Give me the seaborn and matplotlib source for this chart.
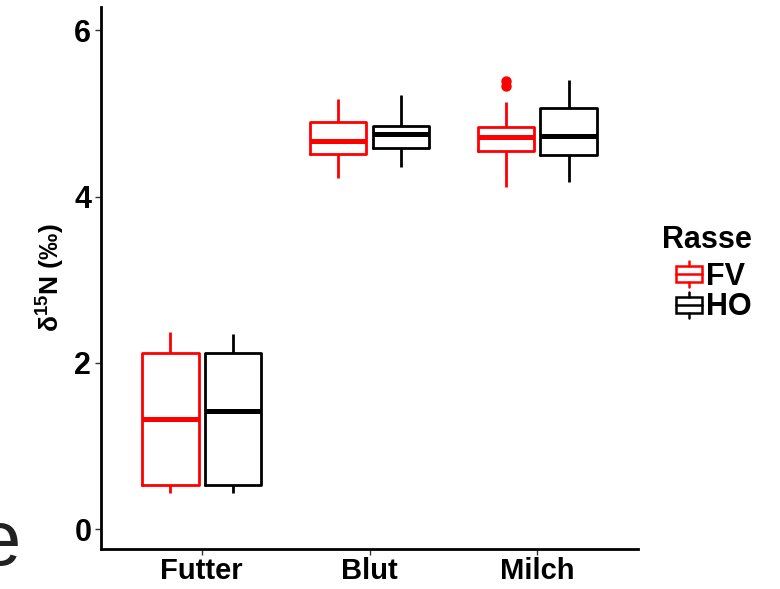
import matplotlib
matplotlib.use("Agg")
import matplotlib.pyplot as plt
from matplotlib.patches import Patch, Rectangle
from matplotlib.lines import Line2D
from matplotlib.legend_handler import HandlerBase
import seaborn as sns
import pandas as pd

# values (each group chosen so quartiles/whiskers match)
futter_fv = [0.43, 0.50, 0.53, 0.90, 1.32, 1.70, 2.12, 2.25, 2.37]
futter_ho = [0.43, 0.50, 0.53, 1.00, 1.42, 1.80, 2.12, 2.25, 2.35]
blut_fv = [4.22, 4.40, 4.51, 4.60, 4.67, 4.80, 4.90, 5.05, 5.17]
blut_ho = [4.35, 4.50, 4.58, 4.68, 4.75, 4.80, 4.85, 5.00, 5.22]
milch_fv = [4.12, 4.35, 4.50, 4.55, 4.62, 4.68, 4.72, 4.76, 4.80, 4.84, 5.14, 5.33, 5.39]
milch_ho = [4.17, 4.35, 4.50, 4.62, 4.73, 4.90, 5.06, 5.25, 5.40]

categories = ["Futter", "Blut", "Milch"]
breeds = ["FV", "HO"]
colors = {"FV": "#FF0000", "HO": "black"}
yticks = [0, 2, 4, 6]

groups = {
    ("Futter", "FV"): futter_fv, ("Futter", "HO"): futter_ho,
    ("Blut", "FV"): blut_fv, ("Blut", "HO"): blut_ho,
    ("Milch", "FV"): milch_fv, ("Milch", "HO"): milch_ho,
}
rows = []
for (cat, breed), vals in groups.items():
    for v in vals:
        rows.append({"Probe": cat, "Rasse": breed, "d15N": v})
df = pd.DataFrame(rows)


class BoxHandler(HandlerBase):
    # small box-and-whisker glyph like ggplot's legend key
    def create_artists(self, legend, orig_handle, xdescent, ydescent,
                       width, height, fontsize, trans):
        c = orig_handle.get_edgecolor()
        x0, y0 = -xdescent, -ydescent
        cx = x0 + width / 2
        bh = height * 0.6
        by = y0 + (height - bh) / 2
        box = Rectangle((x0, by), width, bh, facecolor="none", edgecolor=c,
                        linewidth=1.8, transform=trans)
        med = Line2D([x0, x0 + width], [by + bh / 2] * 2, color=c, lw=1.8, transform=trans)
        w1 = Line2D([cx, cx], [y0, by], color=c, lw=1.8, transform=trans)
        w2 = Line2D([cx, cx], [by + bh, y0 + height], color=c, lw=1.8, transform=trans)
        return [box, med, w1, w2]


sns.set_style("white")
plt.rcParams["font.family"] = ["Liberation Sans", "DejaVu Sans"]
plt.rcParams["mathtext.fontset"] = "custom"
plt.rcParams["mathtext.rm"] = "Liberation Sans:bold"
plt.rcParams["mathtext.default"] = "rm"
plt.rcParams["text.color"] = "black"
plt.rcParams["axes.labelcolor"] = "black"
plt.rcParams["xtick.color"] = "black"
plt.rcParams["ytick.color"] = "black"

fig = plt.figure(figsize=(7.8, 5.89), dpi=100)
ax = fig.add_axes([0.1295, 0.068, 0.6885, 0.92])

sns.boxplot(data=df, x="Probe", y="d15N", hue="Rasse", order=categories,
            hue_order=breeds, palette=colors,
            fill=False, width=0.75, gap=0.1, linewidth=2.0, ax=ax,
            medianprops=dict(linewidth=3.6),
            whiskerprops=dict(linewidth=2.0),
            capprops=dict(linewidth=0),
            flierprops=dict(marker="o", markerfacecolor="#FF0000",
                            markeredgecolor="#FF0000", markersize=6.5),
            legend=False)

ax.set_xlim(-0.6, 2.6)
ax.set_ylim(-0.24, 6.28)
ax.set_yticks(yticks)
ax.set_xlabel("")
ax.set_ylabel(r"δ$^{15}$N (‰)", fontsize=19, fontweight="bold", labelpad=5)
for lab in ax.get_xticklabels() + ax.get_yticklabels():
    lab.set_fontweight("bold")
ax.tick_params(axis="y", labelsize=22, length=4, width=1, color="#333333",
               pad=3, left=True)
ax.tick_params(axis="x", labelsize=21, length=4, width=1, color="#333333",
               pad=2, bottom=True)
sns.despine(ax=ax)
for side in ["left", "bottom"]:
    ax.spines[side].set_linewidth(2)
    ax.spines[side].set_color("black")

handles = [Patch(facecolor="none", edgecolor=colors[b]) for b in breeds]
leg = fig.legend(handles, breeds, title="Rasse", loc="center left",
                 bbox_to_anchor=(0.829, 0.535), frameon=False,
                 handler_map={Patch: BoxHandler()},
                 handlelength=0.85, handleheight=0.95, handletextpad=0.15,
                 labelspacing=0.0, borderpad=0, prop=dict(size=22, weight="bold"))
leg.get_title().set_fontsize(22)
leg.get_title().set_fontweight("bold")
leg._legend_box.align = "right"
leg._legend_box.sep = 4

fig.text(0.027, 0.076, "e", fontsize=56, ha="right", va="center", color="#222222")

fig.savefig("out.png", dpi=100)
